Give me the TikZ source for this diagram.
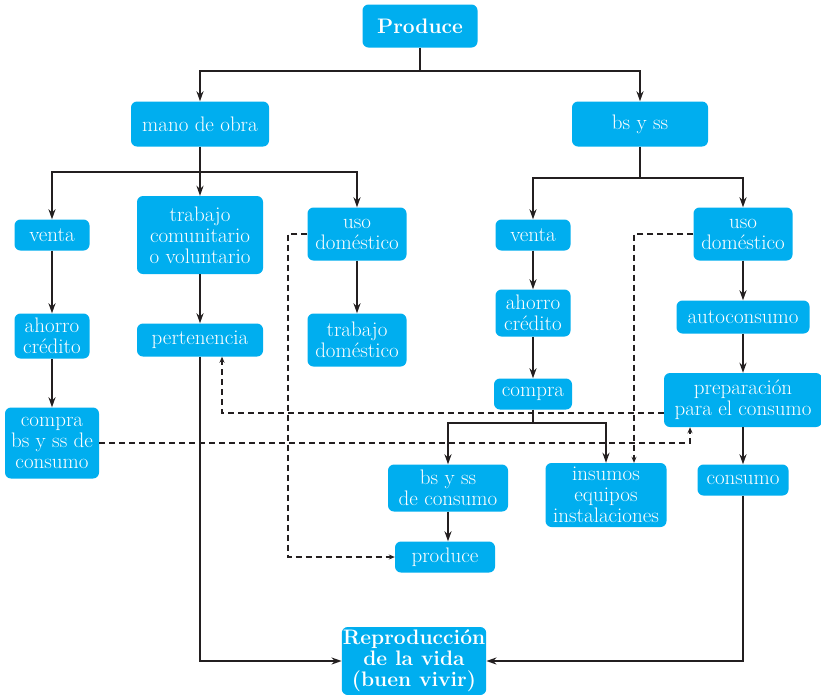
\documentclass[tikz,border=0pt]{standalone}
\usepackage{fontspec}
\usepackage{tikz}
\usetikzlibrary{arrows.meta,positioning,calc}
\definecolor{boxcyan}{RGB}{0,174,239}
\definecolor{linegray}{RGB}{35,31,32}

\begin{document}
\begin{tikzpicture}[
        x=1pt, y=-1pt,
        box/.style={rectangle, fill=boxcyan, text=white, align=center, rounded corners=6pt, inner sep=1pt, font=\fontsize{21}{21}\selectfont},
        arrow/.style={-{Stealth[length=10pt,width=7pt]}, line width=1.7pt, linegray},
        plain/.style={line width=1.7pt, linegray},
        dasharrow/.style={-{Stealth[length=6pt,width=5pt]}, line width=1.3pt, linegray, dash pattern=on 6pt off 4pt}
    ]
        \useasboundingbox[fill=white] (0,0) rectangle (821,694);

        % Top
        \node[box, minimum width=115pt, minimum height=43pt, font=\fontsize{21}{21}\selectfont\bfseries] (produce) at (420,26) {Produce};
        \node[box, minimum width=138pt, minimum height=45pt] (mano) at (200,124) {mano de obra};
        \node[box, minimum width=136pt, minimum height=45pt] (bsyss) at (640,124) {bs y ss};

        % Left branch (mano de obra)
        \node[box, minimum width=75pt, minimum height=31pt] (ventaL) at (52,235) {venta};
        \node[box, minimum width=126pt, minimum height=78pt] (trabcom) at (200,235) {trabajo\\comunitario\\o voluntario};
        \node[box, minimum width=99pt, minimum height=53pt] (usoL) at (357,234) {uso\\doméstico};
        \node[box, minimum width=75pt, minimum height=45pt] (ahorroL) at (52,336) {ahorro\\crédito};
        \node[box, minimum width=126pt, minimum height=33pt] (perten) at (200,340) {pertenencia};
        \node[box, minimum width=99pt, minimum height=53pt] (trabdom) at (357,340) {trabajo\\doméstico};
        \node[box, minimum width=94pt, minimum height=71pt] (compraL) at (52,443) {compra\\bs y ss de\\consumo};

        % Right branch (bs y ss)
        \node[box, minimum width=75pt, minimum height=31pt] (ventaR) at (533,235) {venta};
        \node[box, minimum width=99pt, minimum height=53pt] (usoR) at (743,234) {uso\\doméstico};
        \node[box, minimum width=75pt, minimum height=47pt] (ahorroR) at (533,313) {ahorro\\crédito};
        \node[box, minimum width=133pt, minimum height=33pt] (autocons) at (743,317) {autoconsumo};
        \node[box, minimum width=78pt, minimum height=31pt] (compraR) at (533,394) {compra};
        \node[box, minimum width=158pt, minimum height=54pt] (prep) at (743,400) {preparación\\para el consumo};
        \node[box, minimum width=120pt, minimum height=47pt] (bsyssc) at (448,488) {bs y ss\\de consumo};
        \node[box, minimum width=121pt, minimum height=64pt] (insumos) at (606,495) {insumos\\equipos\\instalaciones};
        \node[box, minimum width=91pt, minimum height=31pt] (consumo) at (743,480) {consumo};
        \node[box, minimum width=100pt, minimum height=31pt] (produce2) at (445,557) {produce};

        % Bottom
        \node[box, minimum width=144pt, minimum height=68pt, font=\fontsize{21}{21}\selectfont\bfseries] (repro) at (414,661) {Reproducción\\de la vida\\(buen vivir)};

        % Junctions
        \coordinate (j0) at (420,71);
        \coordinate (j1) at (200,172);
        \coordinate (j2) at (640,178);
        \coordinate (j3) at (533,423);

        % Tree arrows
        \draw[plain] (produce.south) -- (j0);
        \draw[arrow] (j0) -| (mano.north);
        \draw[arrow] (j0) -| (bsyss.north);
        \draw[plain] (mano.south) -- (j1);
        \draw[arrow] (j1) -| (ventaL.north);
        \draw[arrow] (j1) -- (trabcom.north);
        \draw[arrow] (j1) -| (usoL.north);
        \draw[plain] (bsyss.south) -- (j2);
        \draw[arrow] (j2) -| (ventaR.north);
        \draw[arrow] (j2) -| (usoR.north);
        \draw[plain] (compraR.south) -- (j3);
        \draw[arrow] (j3) -| (bsyssc.north);
        \draw[arrow] (j3) -| (insumos.north);

        % Chains
        \draw[arrow] (ventaL) -- (ahorroL);
        \draw[arrow] (ahorroL) -- (compraL);
        \draw[arrow] (trabcom) -- (perten);
        \draw[arrow] (usoL) -- (trabdom);
        \draw[arrow] (ventaR) -- (ahorroR);
        \draw[arrow] (ahorroR) -- (compraR);
        \draw[arrow] (usoR) -- (autocons);
        \draw[arrow] (autocons) -- (prep);
        \draw[arrow] (prep) -- (consumo);
        \draw[arrow] (bsyssc.south) -- (bsyssc.south |- produce2.north);

        % To Reproduccion
        \draw[arrow] (perten.south) |- (repro.west);
        \draw[arrow] (consumo.south) |- (repro.east);

        % Dashed links
        \coordinate (d1) at (288,234);
        \coordinate (d2) at (222,413);
        \coordinate (d3) at (690,443);
        \coordinate (d4) at (634,234);
        \draw[dasharrow] (usoL.west) -- (d1) |- (produce2.west);
        \draw[dasharrow] (prep.west |- d2) -- (d2) -- (d2 |- perten.south);
        \draw[dasharrow] (compraL.east) -- (d3) -- (d3 |- prep.south);
        \draw[dasharrow] (usoR.west) -- (d4) -- (d4 |- insumos.north);

    \end{tikzpicture}
\end{document}
